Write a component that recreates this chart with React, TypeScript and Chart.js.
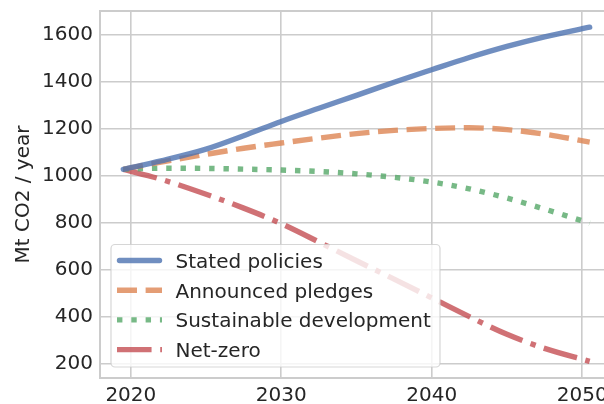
import { useEffect, useRef } from "react";
import { Chart, registerables } from "chart.js";

Chart.register(...registerables);

const years = [2019.5, 2022, 2025, 2027.5, 2030, 2032.5, 2035, 2037.5, 2040, 2042.5, 2045, 2047.5, 2050.5];
const statedPolicies = [1027, 1063, 1113, 1170, 1231, 1287, 1342, 1398, 1451, 1503, 1550, 1591, 1632];
const announcedPledges = [1027, 1058, 1091, 1117, 1139, 1160, 1179, 1193, 1201, 1204, 1196, 1177, 1143];
const sustainableDevelopment = [1027, 1032, 1031, 1028, 1024, 1018, 1008, 993, 973, 944, 905, 858, 798];
const netZero = [1027, 985, 921, 862, 796, 718, 638, 560, 480, 400, 325, 265, 210];

const seriesLabels = ["Stated policies", "Announced pledges", "Sustainable development", "Net-zero"];
const xTicks = [2020, 2030, 2040, 2050];
const yTicks = [200, 400, 600, 800, 1000, 1200, 1400, 1600];

const FONT = "DejaVu Sans";
const FS = 20;
const TEXT = "#262626";
const GRID = "#cccccc";
const LW = 5.4;

const colors = [
  "rgba(76,114,176,0.8)",
  "rgba(221,132,82,0.8)",
  "rgba(85,168,104,0.8)",
  "rgba(196,78,82,0.8)",
];
const dashes: number[][] = [
  [],
  [3.7 * LW, 1.6 * LW],
  [1 * LW, 1.65 * LW],
  [6.4 * LW, 1.6 * LW, 1 * LW, 1.6 * LW],
];
const caps: CanvasLineCap[] = ["round", "butt", "butt", "butt"];

const framePlugin = {
  id: "frame",
  afterDatasetsDraw(chart: any) {
    const { ctx, chartArea } = chart;
    ctx.save();
    ctx.strokeStyle = GRID;
    ctx.lineWidth = 2;
    ctx.beginPath();
    ctx.moveTo(chartArea.left, chartArea.top);
    ctx.lineTo(chartArea.right, chartArea.top);
    ctx.lineTo(chartArea.right, chartArea.bottom);
    ctx.stroke();
    ctx.restore();
  },
};

const legendPlugin = {
  id: "innerLegend",
  afterDraw(chart: any) {
    const { ctx } = chart;
    const bx = 111;
    const by = 244.5;
    const bw = 329;
    const bh = 122.5;
    ctx.save();
    ctx.beginPath();
    ctx.roundRect(bx, by, bw, bh, 4);
    ctx.fillStyle = "rgba(255,255,255,0.8)";
    ctx.fill();
    ctx.strokeStyle = "rgba(204,204,204,0.8)";
    ctx.lineWidth = 1.2;
    ctx.stroke();
    const rowY = [260.5, 290.2, 319.9, 349.6];
    chart.data.datasets.forEach((ds: any, i: number) => {
      const y = rowY[i];
      ctx.beginPath();
      ctx.setLineDash(dashes[i]);
      ctx.lineDashOffset = 0;
      ctx.lineCap = caps[i];
      ctx.strokeStyle = colors[i];
      ctx.lineWidth = LW;
      if (caps[i] === "round") {
        ctx.moveTo(119.5, y);
        ctx.lineTo(159.5, y);
      } else {
        ctx.moveTo(117, y);
        ctx.lineTo(162, y);
      }
      ctx.stroke();
      ctx.setLineDash([]);
      ctx.fillStyle = TEXT;
      ctx.font = `${FS}px "${FONT}"`;
      ctx.textAlign = "left";
      ctx.textBaseline = "alphabetic";
      ctx.fillText(ds.label, 175.5, y + 7.3);
    });
    ctx.restore();
  },
};

export default function App() {
  const ref = useRef<HTMLCanvasElement | null>(null);

  useEffect(() => {
    if (!ref.current) return;
    const series = [statedPolicies, announcedPledges, sustainableDevelopment, netZero];
    const chart = new Chart(ref.current, {
      type: "line",
      data: {
        datasets: series.map((vals, i) => ({
          label: seriesLabels[i],
          data: years.map((x, j) => ({ x, y: vals[j] })),
          borderColor: colors[i],
          backgroundColor: colors[i],
          borderWidth: LW,
          borderDash: dashes[i],
          borderCapStyle: caps[i],
          borderJoinStyle: "round",
          pointRadius: 0,
          cubicInterpolationMode: "monotone",
          fill: false,
        })),
      },
      options: {
        animation: false,
        responsive: false,
        devicePixelRatio: 1,
        layout: { padding: { left: 0, top: 11, right: 1, bottom: 0 } },
        plugins: {
          legend: { display: false },
          tooltip: { enabled: false },
        },
        scales: {
          x: {
            type: "linear",
            min: 2017.95,
            max: 2052.05,
            afterBuildTicks: (axis: any) => {
              axis.ticks = xTicks.map((v) => ({ value: v }));
            },
            afterFit: (scale: any) => {
              scale.height = 26;
              scale.paddingLeft = 0;
              scale.paddingRight = 0;
            },
            grid: { color: GRID, lineWidth: 1.6, drawTicks: false },
            border: { display: true, color: GRID, width: 2 },
            ticks: {
              padding: 6,
              color: TEXT,
              font: { family: FONT, size: FS },
              maxRotation: 0,
              autoSkip: false,
              callback: (v: any) => String(v),
            },
          },
          y: {
            type: "linear",
            min: 139,
            max: 1701,
            afterBuildTicks: (axis: any) => {
              axis.ticks = yTicks.map((v) => ({ value: v }));
            },
            afterFit: (scale: any) => {
              scale.width = 100;
              scale.paddingTop = 0;
              scale.paddingBottom = 0;
            },
            grid: { color: GRID, lineWidth: 1.6, drawTicks: false },
            border: { display: true, color: GRID, width: 2 },
            title: {
              display: true,
              text: "Mt CO2 / year",
              color: TEXT,
              font: { family: FONT, size: FS },
              padding: { top: 12, bottom: 0 },
            },
            ticks: {
              padding: 7,
              color: TEXT,
              font: { family: FONT, size: FS },
              autoSkip: false,
              callback: (v: any) => String(v),
            },
          },
        },
      },
      plugins: [framePlugin, legendPlugin],
    } as any);
    return () => chart.destroy();
  }, []);

  return (
    <div
      style={{
        position: "fixed",
        left: 0,
        top: 0,
        width: 604,
        height: 404,
        overflow: "hidden",
        background: "#ffffff",
      }}
    >
      <canvas ref={ref} width={614} height={404} style={{ display: "block", width: 614, height: 404 }} />
    </div>
  );
}
